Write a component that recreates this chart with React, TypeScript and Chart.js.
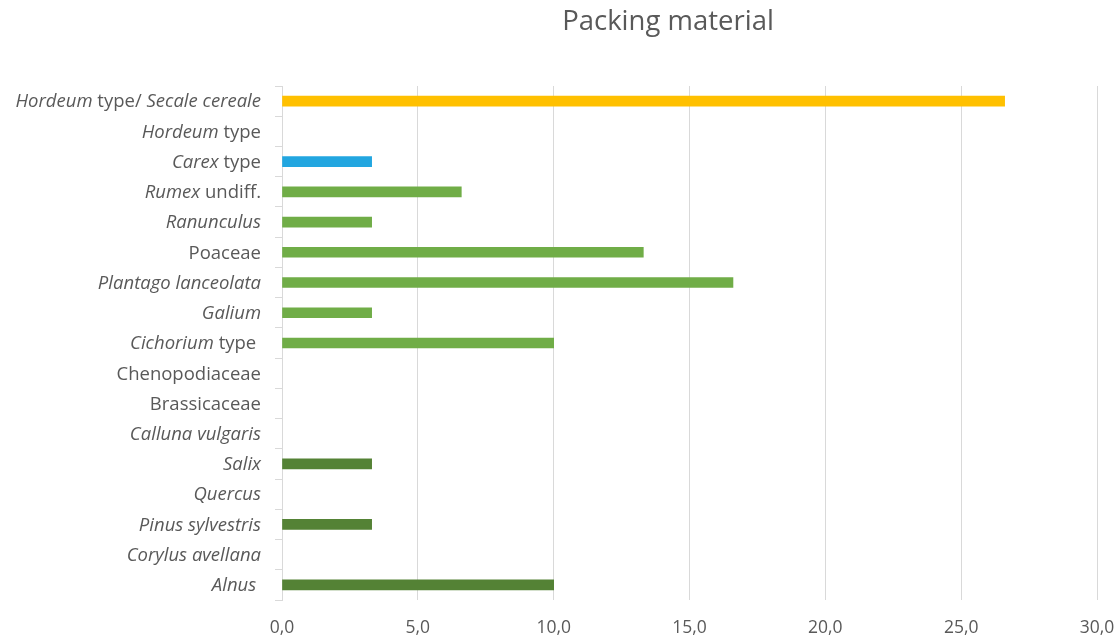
import React, { useEffect, useRef } from "react";
import { Chart, registerables } from "chart.js";

Chart.register(...registerables);

// Labels: text between * * is italic
const categories: string[] = [
  "*Hordeum* type/ *Secale cereale*",
  "*Hordeum* type",
  "*Carex* type",
  "*Rumex* undiff.",
  "*Ranunculus*",
  "Poaceae",
  "*Plantago lanceolata*",
  "*Galium*",
  "*Cichorium* type ",
  "Chenopodiaceae",
  "Brassicaceae",
  "*Calluna vulgaris*",
  "*Salix*",
  "*Quercus*",
  "*Pinus sylvestris*",
  "*Corylus avellana*",
  "*Alnus* ",
];

const values: number[] = [26.6, 0, 3.3, 6.6, 3.3, 13.3, 16.6, 3.3, 10.0, 0, 0, 0, 3.3, 0, 3.3, 0, 10.0];

const YELLOW = "#FFC000";
const BLUE = "#22A6E0";
const GREEN = "#70AD47";
const DARK_GREEN = "#548235";

const barColors: string[] = [
  YELLOW, YELLOW, BLUE,
  GREEN, GREEN, GREEN, GREEN, GREEN, GREEN, GREEN, GREEN, GREEN,
  DARK_GREEN, DARK_GREEN, DARK_GREEN, DARK_GREEN, DARK_GREEN,
];

const titleText = "Packing material";
const xMin = 0;
const xMax = 30;
const xStep = 5;

const FONT = "'Open Sans', 'Liberation Sans', sans-serif";
const TEXT_COLOR = "#595959";
const GRID_COLOR = "#D9D9D9";
const LABEL_SIZE = 18.5;
const TICK_SIZE = 17.5;

function parseSegments(label: string): { text: string; italic: boolean }[] {
  const parts = label.split("*");
  const segs: { text: string; italic: boolean }[] = [];
  parts.forEach((p, i) => {
    if (p.length) segs.push({ text: p, italic: i % 2 === 1 });
  });
  return segs;
}

const richLabels = {
  id: "richLabels",
  afterDraw(chart: any) {
    const ctx = chart.ctx as CanvasRenderingContext2D;
    const yScale = chart.scales.y;
    const rightX = yScale.right - 21;
    ctx.save();
    ctx.fillStyle = TEXT_COLOR;
    ctx.textBaseline = "middle";
    ctx.textAlign = "left";
    categories.forEach((label, i) => {
      const y = yScale.getPixelForValue(i);
      const segs = parseSegments(label);
      const widths = segs.map((s) => {
        ctx.font = `${s.italic ? "italic " : ""}${LABEL_SIZE}px ${FONT}`;
        return ctx.measureText(s.text).width;
      });
      const total = widths.reduce((a, b) => a + b, 0);
      let x = rightX - total;
      segs.forEach((s, k) => {
        ctx.font = `${s.italic ? "italic " : ""}${LABEL_SIZE}px ${FONT}`;
        ctx.fillText(s.text, x, y + 1);
        x += widths[k];
      });
    });
    // title
    ctx.font = `27.5px ${FONT}`;
    ctx.textAlign = "center";
    ctx.fillText(titleText, 668, 22);
    ctx.restore();
  },
};

export default function App() {
  const ref = useRef<HTMLCanvasElement | null>(null);

  useEffect(() => {
    if (!ref.current) return;
    const chart = new Chart(ref.current, {
      type: "bar",
      data: {
        labels: categories,
        datasets: [
          {
            data: values.map((v) => (v === 0 ? null : v)),
            backgroundColor: barColors,
            borderWidth: 0,
            barThickness: 10,
          },
        ],
      },
      options: {
        indexAxis: "y",
        responsive: false,
        animation: false,
        layout: { padding: { top: 86, right: 23, left: 0, bottom: 0 } },
        plugins: {
          legend: { display: false },
          title: { display: false },
          tooltip: { enabled: false },
        },
        scales: {
          x: {
            type: "linear",
            min: xMin,
            max: xMax,
            ticks: {
              stepSize: xStep,
              padding: 18,
              color: TEXT_COLOR,
              font: { family: FONT, size: TICK_SIZE },
              callback: (v: any) => Number(v).toFixed(1).replace(".", ","),
            },
            grid: { color: GRID_COLOR, lineWidth: 1, drawTicks: false },
            border: { display: false },
            afterFit: (scale: any) => {
              scale.height = 40;
              scale.paddingRight = 0;
              scale.paddingLeft = 0;
            },
          },
          y: {
            type: "category",
            offset: true,
            ticks: { display: false },
            grid: {
              offset: true,
              drawOnChartArea: false,
              drawTicks: true,
              tickLength: 7,
              color: GRID_COLOR,
            },
            border: { display: true, color: GRID_COLOR },
            afterFit: (scale: any) => {
              scale.width = 282;
              scale.paddingTop = 0;
              scale.paddingBottom = 0;
            },
          },
        },
      },
      plugins: [richLabels],
    });
    return () => chart.destroy();
  }, []);

  return (
    <div style={{ position: "absolute", left: 0, top: 0, width: 1120, height: 640, background: "#fff" }}>
      <canvas ref={ref} width={1120} height={640} style={{ width: 1120, height: 640 }} />
    </div>
  );
}
